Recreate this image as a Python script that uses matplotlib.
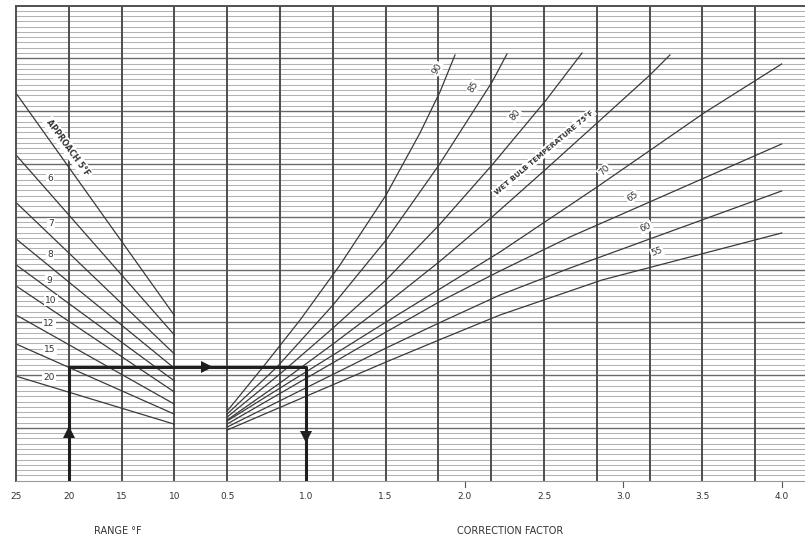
import numpy as np
import matplotlib.pyplot as plt

# axis labels
range_ticks = [25, 20, 15, 10]
cf_ticks = [0.5, 1.0, 1.5, 2.0, 2.5, 3.0, 3.5, 4.0]

# approach lines: chart height (0 bottom .. 9 top) at range 25 and range 10
approach = [5, 6, 7, 8, 9, 10, 12, 15, 20]
approach_y25 = [7.34, 6.17, 5.27, 4.58, 4.09, 3.69, 3.14, 2.59, 1.98]
approach_y10 = [3.13, 2.76, 2.40, 2.13, 1.89, 1.68, 1.45, 1.26, 1.07]

# wet bulb curves: correction factor vs chart height
wb90_cf = [0.5, 0.726, 0.96, 1.212, 1.503, 1.717, 1.843, 1.938]
wb90_y = [1.32, 2.153, 3.043, 4.085, 5.411, 6.585, 7.362, 8.063]
wb85_cf = [0.5, 0.814, 1.168, 1.503, 1.837, 2.172, 2.266]
wb85_y = [1.263, 2.153, 3.328, 4.559, 5.979, 7.551, 8.081]
wb80_cf = [0.5, 0.833, 1.168, 1.503, 1.837, 2.172, 2.513, 2.74]
wb80_y = [1.206, 2.021, 2.892, 3.801, 4.839, 5.979, 7.208, 8.10]
wb75_cf = [0.5, 0.833, 1.168, 1.503, 1.837, 2.172, 2.513, 2.835, 3.169, 3.295]
wb75_y = [1.15, 1.85, 2.589, 3.347, 4.142, 4.994, 5.903, 6.775, 7.684, 8.063]
wb70_cf = [0.5, 1.503, 2.222, 2.835, 3.51, 4.0]
wb70_y = [1.131, 3.006, 4.331, 5.563, 6.964, 7.892]
wb65_cf = [0.5, 1.503, 1.837, 2.222, 2.664, 4.0]
wb65_y = [1.074, 2.816, 3.384, 3.972, 4.616, 6.377]
wb60_cf = [0.5, 1.503, 1.837, 2.222, 2.664, 4.0]
wb60_y = [1.017, 2.513, 2.987, 3.517, 4.028, 5.487]
wb55_cf = [0.5, 1.503, 1.837, 2.222, 2.866, 4.0]
wb55_y = [0.96, 2.248, 2.665, 3.138, 3.801, 4.691]

wet_bulb = [90, 85, 80, 75, 70, 65, 60, 55]
wb_cf = [wb90_cf, wb85_cf, wb80_cf, wb75_cf, wb70_cf, wb65_cf, wb60_cf, wb55_cf]
wb_y = [wb90_y, wb85_y, wb80_y, wb75_y, wb70_y, wb65_y, wb60_y, wb55_y]

# example reading: range 20, approach 15 -> correction factor 1.0
ex_range, ex_approach, ex_cf = 20, 15, 1.0


def rx(r):
    return (25 - np.asarray(r, dtype=float)) / 5


def cx(cf):
    return 4 + (np.asarray(cf, dtype=float) - 0.5) * 3


fig = plt.figure(figsize=(8.05, 5.43), dpi=100)
ax = fig.add_axes([16 / 805, 62.3 / 543, 789 / 805, 475.2 / 543])
ax.set_xlim(0, 789 / 52.8)
ax.set_ylim(0, 9)
ax.set_xticks([])
ax.set_yticks([])

# chart paper: fine horizontal rules, heavier every unit, vertical rules
for k in range(1, 90):
    if k % 10:
        ax.axhline(k / 10, color='#b2b2b2', lw=0.75, zorder=0.5)
for k in range(1, 9):
    ax.axhline(k, color='#6a6a6a', lw=1.0, zorder=0.8)
for k in range(1, 15):
    ax.axvline(k, color='#4e4e4e', lw=1.4, zorder=1)

ax.spines['right'].set_visible(False)
for s in ['top', 'left']:
    ax.spines[s].set_color('#505050')
    ax.spines[s].set_linewidth(1.4)
ax.spines['bottom'].set_color('#9a9a9a')
ax.spines['bottom'].set_linewidth(0.8)

line_kw = dict(color='#3a3a3a', lw=0.9, zorder=2)

# approach lines
for a, y0, y1 in zip(approach, approach_y25, approach_y10):
    ax.plot(rx([25, 10]), [y0, y1], **line_kw)

# wet bulb curves
for cf, y in zip(wb_cf, wb_y):
    ax.plot(cx(cf), y, **line_kw)

# labels
lab_kw = dict(fontsize=6.5, color='#333333', ha='center', va='center', zorder=3)
ax.text(0.985, 6.30, 'APPROACH 5°F', rotation=-54, fontsize=5.8, fontweight='bold',
        color='#333333', ha='center', va='center', rotation_mode='anchor', zorder=3,
        bbox=dict(boxstyle='square,pad=0.25', fc='white', ec='none'))
app_lab_x = [0.644, 0.663, 0.644, 0.625, 0.663, 0.625, 0.644, 0.625]
app_lab_y = [5.73, 4.88, 4.29, 3.80, 3.42, 2.98, 2.49, 1.96]
for a, x, y in zip(approach[1:], app_lab_x, app_lab_y):
    ax.text(x, y, str(a), bbox=dict(boxstyle='square,pad=0.1', fc='white', ec='none'),
            **lab_kw)

wb_lab_x = [7.97, 8.66, 9.45, 11.14, 11.67, 11.93, 12.14]
wb_lab_y = [7.81, 7.46, 6.93, 5.88, 5.38, 4.80, 4.33]
wb_lab_rot = [60, 58, 50, 45, 35, 25, 20]
for t, x, y, r in zip([90, 85, 80, 70, 65, 60, 55], wb_lab_x, wb_lab_y, wb_lab_rot):
    ax.text(x, y, str(t), rotation=r, rotation_mode='anchor',
            bbox=dict(boxstyle='square,pad=0.1', fc='white', ec='none'), **lab_kw)
ax.text(10.0, 6.22, 'WET BULB TEMPERATURE 75°F', rotation=40, fontsize=5.3,
        fontweight='bold', color='#333333', ha='center', va='center',
        rotation_mode='anchor', zorder=3,
        bbox=dict(boxstyle='square,pad=0.25', fc='white', ec='none'))

# example path with arrows
i = approach.index(ex_approach)
y_h = np.interp(rx(ex_range), rx([25, 10]), [approach_y25[i], approach_y10[i]])
path_kw = dict(color='#1e1e1e', lw=2.2, solid_capstyle='butt', zorder=4)
ax.plot([rx(ex_range), rx(ex_range), cx(ex_cf), cx(ex_cf)], [0, y_h, y_h, 0], **path_kw)
mk_kw = dict(ms=9, color='#1e1e1e', mew=0, zorder=4)
ax.plot(rx(ex_range), 0.93, marker='^', **mk_kw)
ax.plot(3.62, y_h, marker='>', **mk_kw)
ax.plot(cx(ex_cf), 0.82, marker='v', **mk_kw)

# bottom tick labels
xt = ax.get_xaxis_transform()
for r in range_ticks:
    ax.text(rx(r), -0.034, str(r), transform=xt, fontsize=6.5, color='#333333',
            ha='center', va='center')
for c in cf_ticks:
    ax.text(cx(c), -0.034, f'{c:.1f}', transform=xt, fontsize=6.5, color='#333333',
            ha='center', va='center')
for c in [2.0, 3.0, 4.0]:
    ax.plot([cx(c), cx(c)], [0, -0.013], transform=xt, color='#555555', lw=0.8,
            clip_on=False)

ax.text(1.93, -0.106, 'RANGE °F', transform=xt, fontsize=7, color='#333333',
        ha='center', va='center')
ax.text(9.36, -0.106, 'CORRECTION FACTOR', transform=xt, fontsize=7, color='#333333',
        ha='center', va='center')

fig.savefig('out.png', dpi=100)
